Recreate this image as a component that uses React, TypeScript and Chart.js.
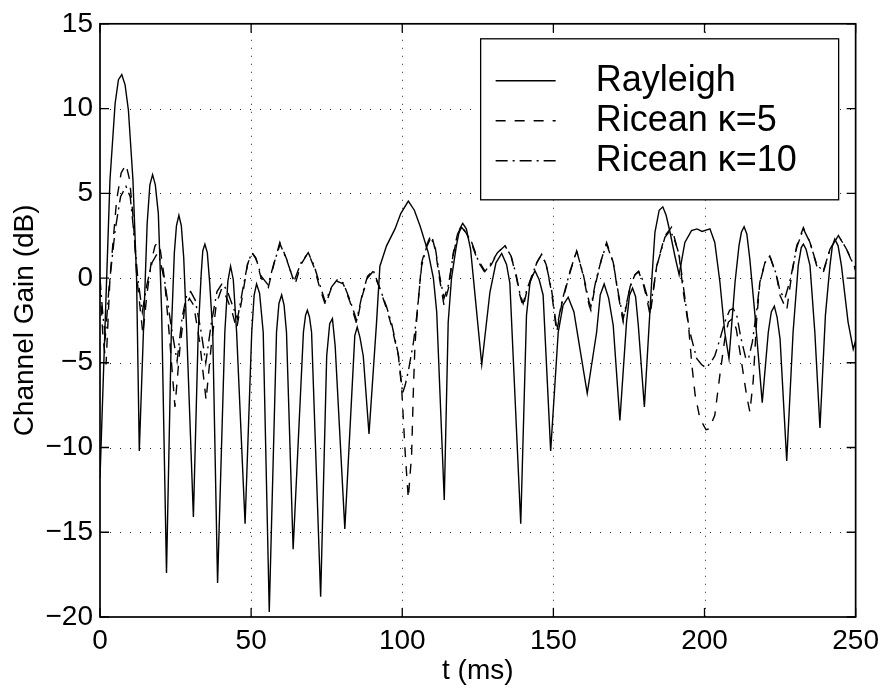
import React, { useEffect, useRef } from "react";
import { Chart, registerables } from "chart.js";

Chart.register(...registerables);

// ---------- data ----------
const xTicks = [0, 50, 100, 150, 200, 250];
const yTicks = [-20, -15, -10, -5, 0, 5, 10, 15];
const seriesLabels = ["Rayleigh", "Ricean \u03ba=5", "Ricean \u03ba=10"];
const xTitle = "t (ms)";
const yTitle = "Channel Gain (dB)";

// [t (ms), gain (dB)]
const rayleigh: [number, number][] = [
  [0, -11.8], [1.6, -3.2], [3.3, 5.8], [5.0, 10.3], [6.1, 11.7], [7.2, 12.0], [8.3, 11.4], [9.4, 9.9],
  [10.9, 5.8], [12.1, 0.0], [13.0, -10.2],
  [14.4, -3.0], [15.6, 3.2], [16.5, 5.5], [17.4, 6.1], [18.3, 5.5], [19.3, 3.8], [20.4, -2.0], [22.0, -17.4],
  [23.6, -3.2], [24.6, 1.5], [25.3, 3.1], [26.1, 3.7], [26.9, 3.1], [27.7, 1.2], [28.7, -3.2], [30.9, -14.1],
  [32.5, -3.2], [33.5, 0.3], [34.0, 1.6], [34.7, 2.0], [35.5, 1.5], [36.3, -0.3], [37.3, -3.2], [38.9, -18.0],
  [41.3, -3.2], [42.3, -0.2], [43.2, 0.7], [44.1, -0.1], [45.2, -3.2], [48.0, -14.5],
  [50.2, -3.2], [51.0, -1.0], [51.8, -0.35], [52.8, -0.9], [54.0, -3.2], [56.0, -19.7],
  [58.4, -3.2], [59.2, -1.5], [60.1, -1.0], [60.9, -1.6], [61.7, -3.2], [63.9, -16.0],
  [67.3, -3.2], [68.0, -2.2], [68.6, -1.9], [69.3, -2.3], [70.0, -3.2], [73.0, -18.8],
  [75.0, -4.6], [76.0, -2.7], [76.9, -2.4], [77.8, -4.0], [81.0, -14.8],
  [84.3, -3.4], [85.1, -2.9], [86.0, -3.5], [87.1, -4.6], [89.0, -9.2],
  [91.5, -2.6], [92.6, 0.7], [94.8, 1.9], [97.6, 2.9], [99.5, 3.8], [102.0, 4.54], [104.0, 4.0], [105.9, 3.07],
  [108.6, 1.5], [110.3, 0.0], [111.4, -2.0], [113.9, -13.1],
  [115.2, -2.6], [116.3, 0.0], [117.9, 1.9], [119.0, 2.9], [120.0, 3.23], [121.2, 2.9], [122.6, 1.7], [126.3, -5.1],
  [129.0, -0.84], [131.0, 0.9], [132.9, 1.45], [134.5, 0.8], [135.6, -0.3], [139.2, -14.5],
  [141.1, -2.2], [142.3, -0.2], [143.9, 0.43], [145.3, -0.1], [146.6, -1.0], [149.1, -10.2],
  [151.6, -3.2], [153.2, -1.6], [154.9, -1.13], [156.8, -2.0], [158.8, -4.2], [161.2, -6.8],
  [164.3, -3.2], [165.5, -1.0], [166.8, -0.35], [168.3, -1.2], [169.8, -2.8], [172.0, -8.4],
  [174.2, -2.6], [175.2, -1.0], [176.2, -0.6], [177.2, -1.1], [178.1, -2.8], [180.1, -7.6],
  [182.5, -0.25], [183.6, 2.7], [185.0, 4.0], [186.2, 4.2], [187.3, 3.7], [188.6, 2.7], [190.2, 1.3], [191.6, 0.2],
  [193.5, 2.1], [195.7, 2.8], [197.5, 2.9], [199.2, 2.75], [201.8, 2.9], [203.4, 2.1], [205.1, -0.25], [206.7, -3.2],
  [208.1, -4.75],
  [210.1, -0.25], [211.4, 1.9], [212.2, 2.7], [213.1, 3.03], [214.0, 2.6], [215.0, 1.1], [216.7, -2.2], [219.1, -7.35],
  [221.1, -3.2], [222.1, -2.0], [223.1, -1.66], [224.0, -2.3], [225.0, -3.6], [227.2, -10.8],
  [229.3, -3.2], [231.0, 0.73], [232.0, 1.8], [232.7, 2.0], [233.6, 1.7], [234.9, 0.73], [236.5, -3.2], [238.2, -8.85],
  [240.0, -2.2], [241.5, 0.73], [242.3, 1.9], [243.1, 2.3], [244.2, 1.9], [245.3, 0.73], [247.5, -2.6], [249.2, -4.2],
  [250, -3.7],
];

const ricean5: [number, number][] = [
  [0, -0.5], [1.0, -3.5], [2.0, -5.1], [3.3, 0.0], [5.5, 4.6], [7.0, 6.2], [8.6, 6.7], [9.8, 5.8], [11.0, 3.5],
  [12.2, 0.0], [14.2, -3.3], [15.5, -1.0], [17.0, 1.0], [18.2, 1.9], [19.1, 2.1], [20.0, 1.6], [21.3, 0.0],
  [23.0, -3.5], [24.8, -7.6], [26.5, -4.0], [28.0, -1.8], [29.6, -1.2], [31.0, -1.6], [33.0, -3.8], [35.1, -7.2],
  [36.8, -4.0], [38.5, -1.5], [40.3, -0.6], [42.0, -1.2], [43.7, -2.0], [45.2, -3.0], [47.0, -1.2], [48.8, 0.8],
  [50.2, 1.5], [51.5, 1.2], [53.3, 0.0], [55.7, -0.55], [57.5, 0.8], [59.5, 2.1], [61.8, 1.1], [64.5, -0.4],
  [66.5, 0.8], [68.9, 1.5], [70.9, 0.6], [72.8, -0.65], [74.6, -1.6], [76.7, -0.5], [78.5, -0.2], [80.5, -0.35],
  [82.7, -1.4], [84.9, -2.7], [86.7, -1.1], [88.5, 0.0], [90.4, 0.4], [92.6, -0.65], [94.8, -1.8], [96.4, -2.8],
  [98.7, -4.55], [99.8, -6.5], [101.0, -10.4], [102.0, -13.0], [103.1, -10.4], [103.7, -6.5], [104.2, -4.0],
  [104.7, -2.6], [106.4, 0.9], [108.0, 1.9], [109.6, 2.6], [111.0, 1.6], [112.3, 0.0], [113.8, -1.6], [115.3, -0.6],
  [116.9, 1.5], [118.3, 2.6], [119.6, 3.05], [121.0, 2.7], [123.0, 2.0], [125.0, 1.0], [127.4, 0.3], [129.5, 0.8],
  [131.5, 1.5], [134.0, 1.9], [136.0, 1.3], [137.8, 0.0], [138.9, -1.0], [140.0, -1.7], [141.2, -0.8], [142.8, 0.0],
  [144.5, 0.9], [146.1, 1.4], [147.6, 0.8], [149.4, -0.84], [151.1, -3.2], [152.8, -1.5], [155.5, 0.33],
  [157.7, 1.6], [159.9, 0.14], [161.8, -1.6], [162.4, -1.9], [164.0, -0.3], [165.9, 1.1], [167.6, 2.1],
  [169.8, 0.92], [171.5, -1.03], [173.1, -2.6], [175.4, -0.5], [177.0, 0.2], [178.2, 0.37], [179.5, -0.2],
  [180.9, -1.2], [182.0, -2.2], [184.2, 0.73], [186.9, 2.5], [189.1, 3.0], [190.3, 2.2], [191.6, 1.3],
  [193.0, -0.84], [194.7, -2.8], [195.8, -5.1], [196.9, -6.9], [198.5, -8.3], [200.5, -8.95], [201.5, -8.9],
  [203.4, -8.1], [205.1, -5.7], [206.7, -3.6], [207.9, -2.6], [209.2, -2.4], [210.5, -3.0], [212.2, -4.9],
  [213.9, -6.9], [215.0, -7.9], [216.1, -6.1], [217.2, -2.6], [218.3, -0.25], [220.0, 0.92], [221.6, 1.3],
  [223.8, 0.14], [225.0, -1.03], [227.2, -1.9], [228.8, 0.14], [230.5, 1.9], [232.7, 2.97], [234.9, 2.1],
  [237.1, 0.73], [239.3, 0.33], [241.5, 1.7], [244.3, 2.5], [247.0, 1.7], [249.8, 0.53], [250, 0.45],
];

const ricean10: [number, number][] = [
  [0, 0.0], [1.0, -2.3], [1.8, -3.4], [3.0, -0.5], [5.0, 2.8], [6.8, 4.8], [8.6, 5.4], [10.0, 4.8], [11.3, 2.5],
  [12.5, 0.0], [14.0, -2.0], [15.5, -0.4], [17.2, 0.9], [18.8, 1.4], [19.8, 1.1], [21.5, -0.3], [23.5, -2.8],
  [25.5, -4.9], [27.2, -2.3], [28.7, -1.0], [30.0, -0.8], [31.5, -1.3], [33.3, -3.0], [35.0, -5.0], [36.8, -2.7],
  [38.7, -0.8], [40.5, -0.3], [42.2, -0.8], [44.0, -1.7], [45.5, -2.4], [47.2, -0.7], [48.9, 0.9], [50.3, 1.5],
  [51.7, 1.1], [53.4, 0.1], [55.6, -0.4], [57.6, 0.9], [59.6, 2.0], [61.9, 1.0], [64.2, -0.2], [66.5, 0.9],
  [68.9, 1.5], [70.9, 0.7], [72.9, -0.5], [74.5, -1.4], [76.7, -0.5], [78.5, -0.1], [80.5, -0.3], [82.7, -1.3],
  [84.9, -2.5], [86.7, -1.0], [88.5, 0.1], [90.4, 0.45], [92.6, -0.6], [94.8, -1.7], [96.5, -2.7], [98.7, -4.5],
  [100.1, -6.8], [101.0, -6.3], [102.0, -5.5], [103.7, -3.8], [104.7, -2.4], [106.4, 0.7], [108.0, 1.8],
  [109.5, 2.4], [111.0, 1.7], [112.3, 0.2], [113.8, -1.2], [115.3, -0.4], [116.9, 1.4], [118.3, 2.5], [119.6, 3.0],
  [121.0, 2.7], [123.0, 2.1], [125.0, 1.1], [127.4, 0.4], [129.5, 0.9], [131.5, 1.5], [134.0, 1.9], [136.0, 1.3],
  [137.8, 0.1], [138.9, -0.9], [140.0, -1.5], [141.2, -0.7], [142.8, 0.1], [144.5, 0.9], [146.1, 1.4],
  [147.6, 0.8], [149.4, -0.7], [151.1, -3.0], [152.8, -1.4], [155.5, 0.4], [157.7, 1.6], [159.9, 0.2],
  [161.8, -1.4], [162.4, -1.7], [164.0, -0.2], [165.9, 1.1], [167.6, 2.0], [169.8, 0.9], [171.5, -0.9],
  [173.1, -2.4], [175.4, -0.5], [177.0, 0.2], [178.2, 0.4], [179.5, -0.1], [180.9, -1.0], [182.0, -1.9],
  [184.2, 0.7], [186.9, 2.4], [188.6, 2.8], [190.0, 2.3], [191.6, 1.4], [193.0, -0.5], [194.9, -3.0],
  [197.4, -4.75], [199.0, -5.1], [200.5, -5.3], [202.0, -5.0], [203.4, -4.6], [205.1, -3.6], [206.7, -2.6],
  [208.3, -1.9], [209.5, -1.8], [210.8, -2.3], [212.0, -3.5], [213.6, -4.7], [214.5, -4.8], [215.8, -3.8],
  [217.2, -2.0], [218.3, -0.3], [220.0, 0.9], [221.6, 1.3], [223.8, 0.2], [225.0, -0.8], [226.6, -1.2],
  [228.5, 0.0], [230.5, 1.8], [232.7, 2.9], [234.9, 2.1], [237.1, 0.8], [239.3, 0.4], [241.5, 1.7], [244.3, 2.5],
  [247.0, 1.7], [249.8, 0.6], [250, 0.5],
];

// ---------- styling ----------
const FONT = "'Liberation Sans', Arial, Helvetica, sans-serif";
const FONT_SIZE = 28;
const LEGEND_FONT_SIZE = 36;
const DASH_STYLES: number[][] = [[], [10, 9], [12, 5, 2, 5]];

const toPoints = (pairs: [number, number][]) => pairs.map(([x, y]) => ({ x, y }));
const minus = (v: number | string) => String(v).replace("-", "\u2212");

const framePlugin = {
  id: "matlabFrame",
  beforeDatasetsDraw(chart: any) {
    const { ctx, chartArea: a, scales } = chart;
    const x = scales.x;
    const y = scales.y;
    ctx.save();
    ctx.strokeStyle = "rgba(0,0,0,0.85)";
    ctx.lineWidth = 1;
    ctx.setLineDash([1, 7]);
    for (const t of x.ticks) {
      const px = Math.round(x.getPixelForValue(t.value)) + 0.5;
      if (px <= a.left + 1 || px >= a.right - 1) continue;
      ctx.beginPath();
      ctx.moveTo(px, a.top);
      ctx.lineTo(px, a.bottom);
      ctx.stroke();
    }
    ctx.setLineDash([1, 9]);
    for (const t of y.ticks) {
      const py = Math.round(y.getPixelForValue(t.value)) + 0.5;
      if (py <= a.top + 1 || py >= a.bottom - 1) continue;
      ctx.beginPath();
      ctx.moveTo(a.left, py);
      ctx.lineTo(a.right, py);
      ctx.stroke();
    }
    ctx.restore();
  },
  afterDatasetsDraw(chart: any) {
    const { ctx, chartArea: a, scales } = chart;
    const x = scales.x;
    const y = scales.y;
    const TL = 9;
    ctx.save();
    ctx.setLineDash([]);
    ctx.strokeStyle = "#000";
    ctx.lineWidth = 1.7;
    ctx.strokeRect(a.left, a.top, a.right - a.left, a.bottom - a.top);
    ctx.lineWidth = 1.3;
    for (const t of x.ticks) {
      const px = x.getPixelForValue(t.value);
      ctx.beginPath();
      ctx.moveTo(px, a.bottom);
      ctx.lineTo(px, a.bottom - TL);
      ctx.moveTo(px, a.top);
      ctx.lineTo(px, a.top + TL);
      ctx.stroke();
    }
    for (const t of y.ticks) {
      const py = y.getPixelForValue(t.value);
      ctx.beginPath();
      ctx.moveTo(a.left, py);
      ctx.lineTo(a.left + TL, py);
      ctx.moveTo(a.right, py);
      ctx.lineTo(a.right - TL, py);
      ctx.stroke();
    }

    // legend box
    const lw = 358;
    const lh = 161;
    const lx = a.right - 375;
    const ly = a.top + 15;
    ctx.fillStyle = "#fff";
    ctx.fillRect(lx, ly, lw, lh);
    ctx.lineWidth = 1.3;
    ctx.strokeRect(lx, ly, lw, lh);
    ctx.font = `${LEGEND_FONT_SIZE}px ${FONT}`;
    ctx.textBaseline = "middle";
    ctx.textAlign = "left";
    ctx.fillStyle = "#000";
    chart.data.datasets.forEach((ds: any, i: number) => {
      const ry = ly + 42 + i * 40;
      ctx.beginPath();
      ctx.lineWidth = ds.borderWidth;
      ctx.setLineDash(ds.borderDash || []);
      ctx.moveTo(lx + 15, ry);
      ctx.lineTo(lx + 75, ry);
      ctx.stroke();
      ctx.setLineDash([]);
      ctx.fillText(ds.label, lx + 115, ry);
    });
    ctx.restore();
  },
};

export default function App() {
  const canvasRef = useRef<HTMLCanvasElement | null>(null);

  useEffect(() => {
    const canvas = canvasRef.current;
    if (!canvas) return;
    const series = [rayleigh, ricean5, ricean10];
    const chart = new Chart(canvas, {
      type: "line",
      data: {
        datasets: series.map((s, i) => ({
          label: seriesLabels[i],
          data: toPoints(s),
          borderColor: "#000",
          backgroundColor: "#000",
          borderWidth: 1.4,
          borderDash: DASH_STYLES[i],
          pointRadius: 0,
          tension: 0,
          fill: false,
        })),
      },
      options: {
        responsive: false,
        animation: false,
        devicePixelRatio: 1,
        layout: { padding: { left: 0, top: 20, right: 30, bottom: 0 } },
        plugins: { legend: { display: false }, tooltip: { enabled: false } },
        events: [],
        scales: {
          x: {
            type: "linear",
            min: xTicks[0],
            max: xTicks[xTicks.length - 1],
            afterBuildTicks: (s: any) => {
              s.ticks = xTicks.map((v) => ({ value: v }));
            },
            afterFit: (s: any) => {
              s.height = 71;
            },
            grid: { display: false, drawTicks: false },
            border: { display: false },
            ticks: {
              autoSkip: false,
              maxRotation: 0,
              padding: 7,
              color: "#000",
              font: { family: FONT, size: FONT_SIZE },
              callback: (v: any) => minus(v),
            },
            title: {
              display: true,
              text: xTitle,
              color: "#000",
              font: { family: FONT, size: FONT_SIZE },
              padding: { top: 0, bottom: 0 },
            },
          },
          y: {
            type: "linear",
            min: yTicks[0],
            max: yTicks[yTicks.length - 1],
            afterBuildTicks: (s: any) => {
              s.ticks = yTicks.map((v) => ({ value: v }));
            },
            afterFit: (s: any) => {
              s.width = 100;
            },
            grid: { display: false, drawTicks: false },
            border: { display: false },
            ticks: {
              autoSkip: false,
              padding: 7,
              color: "#000",
              font: { family: FONT, size: FONT_SIZE },
              callback: (v: any) => minus(v),
            },
            title: {
              display: true,
              text: yTitle,
              color: "#000",
              font: { family: FONT, size: FONT_SIZE },
              padding: { top: 8, bottom: 0 },
            },
          },
        },
      },
      plugins: [framePlugin],
    } as any);
    return () => chart.destroy();
  }, []);

  return (
    <div style={{ position: "fixed", left: 0, top: 0, width: 886, height: 688, background: "#fff" }}>
      <canvas ref={canvasRef} width={886} height={688} style={{ display: "block", width: 886, height: 688 }} />
    </div>
  );
}
